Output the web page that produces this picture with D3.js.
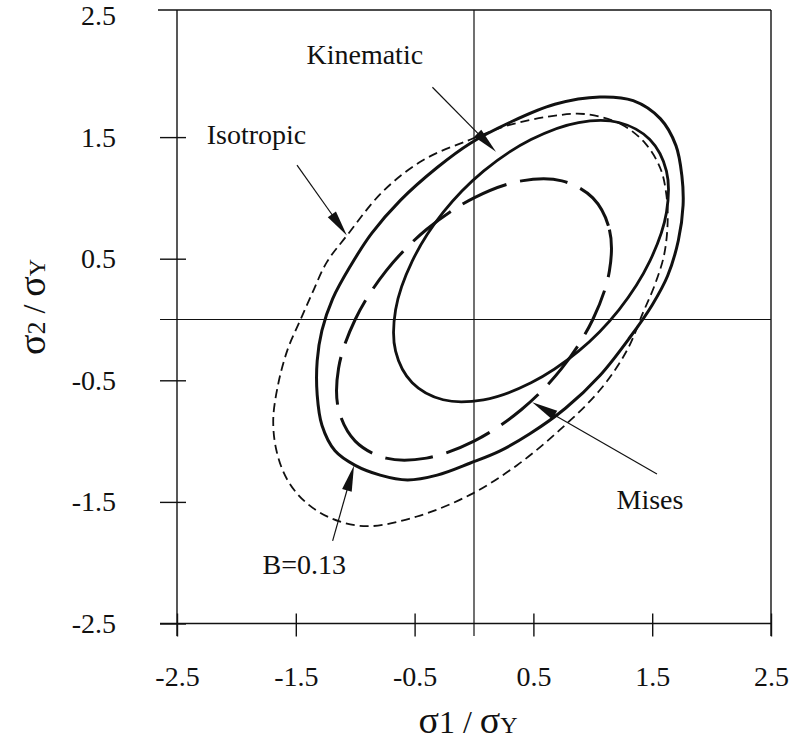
<!DOCTYPE html>
<html>
<head>
<meta charset="utf-8">
<script src="https://cdn.jsdelivr.net/npm/d3@7"></script>
<style>
  html, body { margin: 0; padding: 0; background: #fff; }
  svg { display: block; }
  text { font-family: "Liberation Serif", "Times New Roman", serif; fill: #111; }
</style>
</head>
<body>
<svg id="chart" width="789" height="747"></svg>
<script>
// Axis ticks (both axes share the same values)
const tickValues = [-2.5, -1.5, -0.5, 0.5, 1.5, 2.5];
const tickLabels = ["-2.5", "-1.5", "-0.5", "0.5", "1.5", "2.5"];

// Yield surfaces in the (σ1/σY, σ2/σY) plane
const misesCurve = [
  [1.00, 1.00], [1.14, 0.74], [1.14, 0.40], [1.00, 0.00], [0.74, -0.40], [0.40, -0.74],
  [0.00, -1.00], [-0.40, -1.14], [-0.74, -1.14], [-1.00, -1.00], [-1.14, -0.74], [-1.14, -0.40],
  [-1.00, 0.00], [-0.74, 0.40], [-0.40, 0.74], [0.00, 1.00], [0.40, 1.14], [0.74, 1.14]
];
const kinematicCurve = [
  [1.48, 1.48], [1.62, 1.22], [1.62, 0.88], [1.48, 0.48], [1.22, 0.08], [0.88, -0.26],
  [0.48, -0.52], [0.08, -0.66], [-0.26, -0.66], [-0.52, -0.52], [-0.66, -0.26], [-0.66, 0.08],
  [-0.52, 0.48], [-0.26, 0.88], [0.08, 1.22], [0.48, 1.48], [0.88, 1.62], [1.22, 1.62]
];
const mixedCurve = [ // B = 0.13
  [1.06, 1.83], [1.34, 1.80], [1.57, 1.65], [1.70, 1.43], [1.75, 1.18], [1.76, 0.94],
  [1.72, 0.65], [1.63, 0.36], [1.50, 0.12], [1.31, -0.15], [1.06, -0.46], [0.77, -0.73],
  [0.47, -0.94], [0.22, -1.08], [-0.03, -1.18], [-0.31, -1.28], [-0.56, -1.32], [-0.79, -1.28],
  [-1.00, -1.20], [-1.17, -1.08], [-1.28, -0.87], [-1.32, -0.62], [-1.32, -0.34], [-1.28, -0.09],
  [-1.19, 0.17], [-1.04, 0.44], [-0.86, 0.71], [-0.62, 0.98], [-0.31, 1.25], [-0.03, 1.45],
  [0.30, 1.62], [0.68, 1.77]
];
const isotropicCurve = [
  [0.93, 1.69], [1.23, 1.61], [1.44, 1.45], [1.57, 1.24], [1.62, 1.02], [1.63, 0.80],
  [1.60, 0.53], [1.52, 0.28], [1.42, 0.05], [1.29, -0.25], [1.06, -0.58], [0.72, -0.91],
  [0.36, -1.20], [-0.03, -1.44], [-0.48, -1.62], [-0.90, -1.70], [-1.19, -1.64], [-1.42, -1.50],
  [-1.57, -1.32], [-1.66, -1.09], [-1.69, -0.83], [-1.65, -0.54], [-1.57, -0.25], [-1.46, 0.00],
  [-1.36, 0.22], [-1.24, 0.47], [-1.07, 0.69], [-0.77, 1.05], [-0.43, 1.31], [-0.03, 1.48],
  [0.30, 1.60], [0.64, 1.67]
];

// Curve labels with leader arrows (label anchor, arrow tail, arrow tip)
const annotations = [
  { text: "Kinematic", at: [-1.41, 2.105], from: [-0.35, 1.91], to: [0.185, 1.38] },
  { text: "Isotropic", at: [-2.25, 1.44], from: [-1.49, 1.27], to: [-1.07, 0.69] },
  { text: "Mises",     at: [1.20, -1.555], from: [1.54, -1.27], to: [0.49, -0.68] },
  { text: "B=0.13",    at: [-1.78, -2.09], from: [-1.19, -1.82], to: [-1.01, -1.20] }
];

const svg = d3.select("#chart");
const x = d3.scaleLinear().domain([-2.5, 2.5]).range([177, 771]);
const y = d3.scaleLinear().domain([-2.5, 2.5]).range([623.5, 15.5]);

const ink = "#111";
const frameTop = 10, tickOut = 636;

// Frame and zero lines
const frame = svg.append("g").attr("stroke", ink).attr("stroke-width", 1.4).attr("fill", "none");
frame.append("line").attr("x1", 158).attr("x2", x(2.5)).attr("y1", frameTop).attr("y2", frameTop);
frame.append("line").attr("x1", x(2.5)).attr("x2", x(2.5)).attr("y1", frameTop).attr("y2", tickOut);
frame.append("line").attr("x1", x(-2.5)).attr("x2", x(-2.5)).attr("y1", frameTop).attr("y2", tickOut);
frame.append("line").attr("x1", 160).attr("x2", x(2.5)).attr("y1", y(-2.5)).attr("y2", y(-2.5));
frame.append("line").attr("x1", 160).attr("x2", x(2.5)).attr("y1", y(0)).attr("y2", y(0)).attr("stroke-width", 1.2);
frame.append("line").attr("x1", x(0)).attr("x2", x(0)).attr("y1", frameTop).attr("y2", tickOut).attr("stroke-width", 1.2);

// Left axis
const gy = svg.append("g")
  .attr("transform", `translate(${x(-2.5)},0)`)
  .call(d3.axisLeft(y).tickValues(tickValues)
    .tickFormat((d, i) => tickLabels[i]).tickSizeInner(17).tickSizeOuter(0).tickPadding(44));
gy.select(".domain").remove();
gy.selectAll(".tick line").attr("x1", 9).attr("stroke", ink).attr("stroke-width", 1.4)
  .filter(d => d === 2.5).remove();
gy.selectAll(".tick text").attr("font-size", 28).attr("fill", ink);
gy.attr("font-family", null).attr("font-size", null);

// Bottom axis
const gx = svg.append("g")
  .attr("transform", `translate(0,${y(-2.5)})`)
  .call(d3.axisBottom(x).tickValues(tickValues)
    .tickFormat((d, i) => tickLabels[i]).tickSizeInner(13).tickSizeOuter(0).tickPadding(29.6));
gx.select(".domain").remove();
gx.selectAll(".tick line").attr("y1", -10).attr("stroke", ink).attr("stroke-width", 1.4);
gx.selectAll(".tick text").attr("font-size", 28).attr("fill", ink);
gx.attr("font-family", null).attr("font-size", null);

// Yield surfaces
const line = d3.line().x(d => x(d[0])).y(d => y(d[1])).curve(d3.curveCatmullRomClosed.alpha(0.5));
const curves = svg.append("g").attr("fill", "none").attr("stroke", ink).attr("stroke-linejoin", "round");
curves.append("path").datum(isotropicCurve).attr("d", line)
  .attr("stroke-width", 1.8).attr("stroke-dasharray", "9,5");
curves.append("path").datum(misesCurve).attr("d", line)
  .attr("stroke-width", 3).attr("stroke-dasharray", "48,14");
curves.append("path").datum(kinematicCurve).attr("d", line).attr("stroke-width", 2.8);
curves.append("path").datum(mixedCurve).attr("d", line).attr("stroke-width", 3);

// Annotations
const ann = svg.append("g");
annotations.forEach(a => {
  const x0 = x(a.from[0]), y0 = y(a.from[1]), x1 = x(a.to[0]), y1 = y(a.to[1]);
  const dx = x1 - x0, dy = y1 - y0, len = Math.hypot(dx, dy);
  const ux = dx / len, uy = dy / len, headLen = 26, headHalf = 5;
  const bx = x1 - ux * headLen, by = y1 - uy * headLen;
  ann.append("line").attr("x1", x0).attr("y1", y0).attr("x2", bx + ux * 2).attr("y2", by + uy * 2)
    .attr("stroke", ink).attr("stroke-width", 1.2);
  ann.append("path")
    .attr("d", `M${x1},${y1}L${bx - uy * headHalf},${by + ux * headHalf}L${bx + uy * headHalf},${by - ux * headHalf}Z`)
    .attr("fill", ink);
  ann.append("text").attr("x", x(a.at[0])).attr("y", y(a.at[1])).attr("font-size", 28).text(a.text);
});

// Axis titles
const xt = svg.append("text").attr("x", 468).attr("y", 733).attr("text-anchor", "middle");
xt.append("tspan").attr("font-size", 38).text("σ");
xt.append("tspan").attr("font-size", 32).text("1");
xt.append("tspan").attr("font-size", 32).text(" / ");
xt.append("tspan").attr("font-size", 38).text("σ");
xt.append("tspan").attr("font-size", 24).text("Y");

const yt = svg.append("text").attr("transform", "translate(45,307) rotate(-90)").attr("text-anchor", "middle");
yt.append("tspan").attr("font-size", 38).text("σ");
yt.append("tspan").attr("font-size", 26).text("2");
yt.append("tspan").attr("font-size", 32).text(" / ");
yt.append("tspan").attr("font-size", 38).text("σ");
yt.append("tspan").attr("font-size", 24).text("Y");
</script>
</body>
</html>
